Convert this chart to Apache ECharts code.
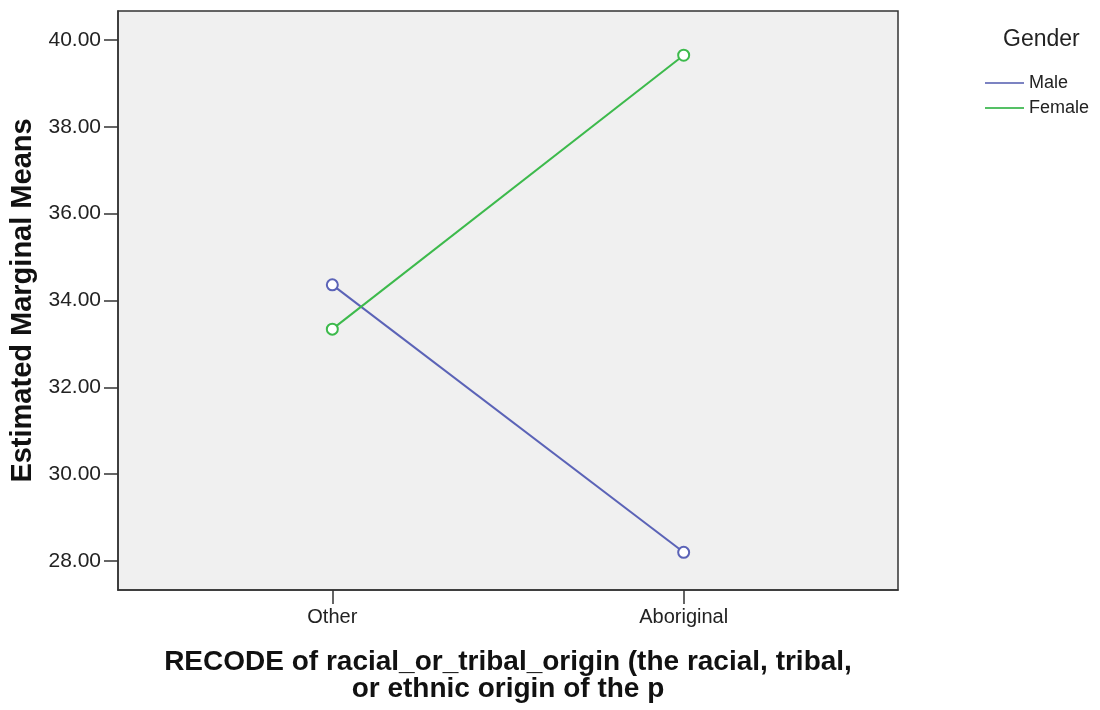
<!DOCTYPE html>
<html>
<head>
<meta charset="utf-8">
<style>html,body{margin:0;padding:0;background:#fff;}#c{width:1100px;height:710px;}</style>
<script src="https://cdn.jsdelivr.net/npm/echarts@6/dist/echarts.min.js"></script>
</head>
<body>
<div id="c"></div>
<script>
const categories = ['Other', 'Aboriginal'];
const maleValues = [34.36, 28.20];
const femaleValues = [33.34, 39.65];
const yTicks = [28, 30, 32, 34, 36, 38, 40];
const seriesNames = ['Male', 'Female'];

const chart = echarts.init(document.getElementById('c'), null, {renderer: 'canvas'});
const font = '"Liberation Sans", Arial, sans-serif';
const toPts = arr => arr.map((v, i) => [i, v]);

chart.setOption({
  backgroundColor: '#ffffff',
  animation: false,
  title: {
    text: 'Gender', left: 998, top: 23,
    textStyle: {fontFamily: font, fontSize: 23, fontWeight: 'normal', color: '#222'}
  },
  legend: {
    orient: 'vertical', left: 985, top: 74, padding: 0,
    itemWidth: 39, itemHeight: 2, itemGap: 7, icon: 'rect',
    textStyle: {fontFamily: font, fontSize: 18, color: '#222'},
    data: [
      {name: seriesNames[0], itemStyle: {color: '#7c83c2'}},
      {name: seriesNames[1], itemStyle: {color: '#55c065'}}
    ]
  },
  grid: {
    left: 118, top: 11, width: 780, height: 579,
    show: true, backgroundColor: '#f0f0f0', borderColor: '#333', borderWidth: 1.5
  },
  xAxis: {
    type: 'value', min: -0.61, max: 1.61,
    axisLine: {show: true, onZero: false, lineStyle: {color: '#333', width: 1.5}},
    axisTick: {show: true, length: 14, customValues: [0, 1], lineStyle: {color: '#333', width: 1.5}},
    axisLabel: {
      customValues: [0, 1], margin: 17,
      formatter: v => categories[Math.round(v)],
      fontFamily: font, fontSize: 20, color: '#222'
    },
    splitLine: {show: false},
    name: 'RECODE of racial_or_tribal_origin (the racial, tribal,\nor ethnic origin of the p',
    nameLocation: 'middle', nameGap: 59,
    nameTextStyle: {fontFamily: font, fontSize: 28, fontWeight: 'bold', color: '#111', lineHeight: 27}
  },
  yAxis: {
    type: 'value', min: 27.332, max: 40.668,
    axisLine: {show: true, onZero: false, lineStyle: {color: '#333', width: 1.5}},
    axisTick: {show: true, length: 14, customValues: yTicks, lineStyle: {color: '#333', width: 1.5}},
    axisLabel: {
      customValues: yTicks, margin: 17,
      formatter: v => v.toFixed(2),
      fontFamily: font, fontSize: 21, color: '#222'
    },
    splitLine: {show: false},
    name: 'Estimated Marginal Means',
    nameLocation: 'middle', nameGap: 79,
    nameTextStyle: {fontFamily: font, fontSize: 29, fontWeight: 'bold', color: '#111'}
  },
  series: [
    {
      name: seriesNames[0], type: 'line', data: toPts(maleValues),
      symbol: 'emptyCircle', symbolSize: 11,
      lineStyle: {color: '#5b63b7', width: 2},
      itemStyle: {color: '#5b63b7', borderWidth: 1.5}
    },
    {
      name: seriesNames[1], type: 'line', data: toPts(femaleValues),
      symbol: 'emptyCircle', symbolSize: 11,
      lineStyle: {color: '#3dba4c', width: 2},
      itemStyle: {color: '#3dba4c', borderWidth: 1.5}
    }
  ]
});
</script>
</body>
</html>
